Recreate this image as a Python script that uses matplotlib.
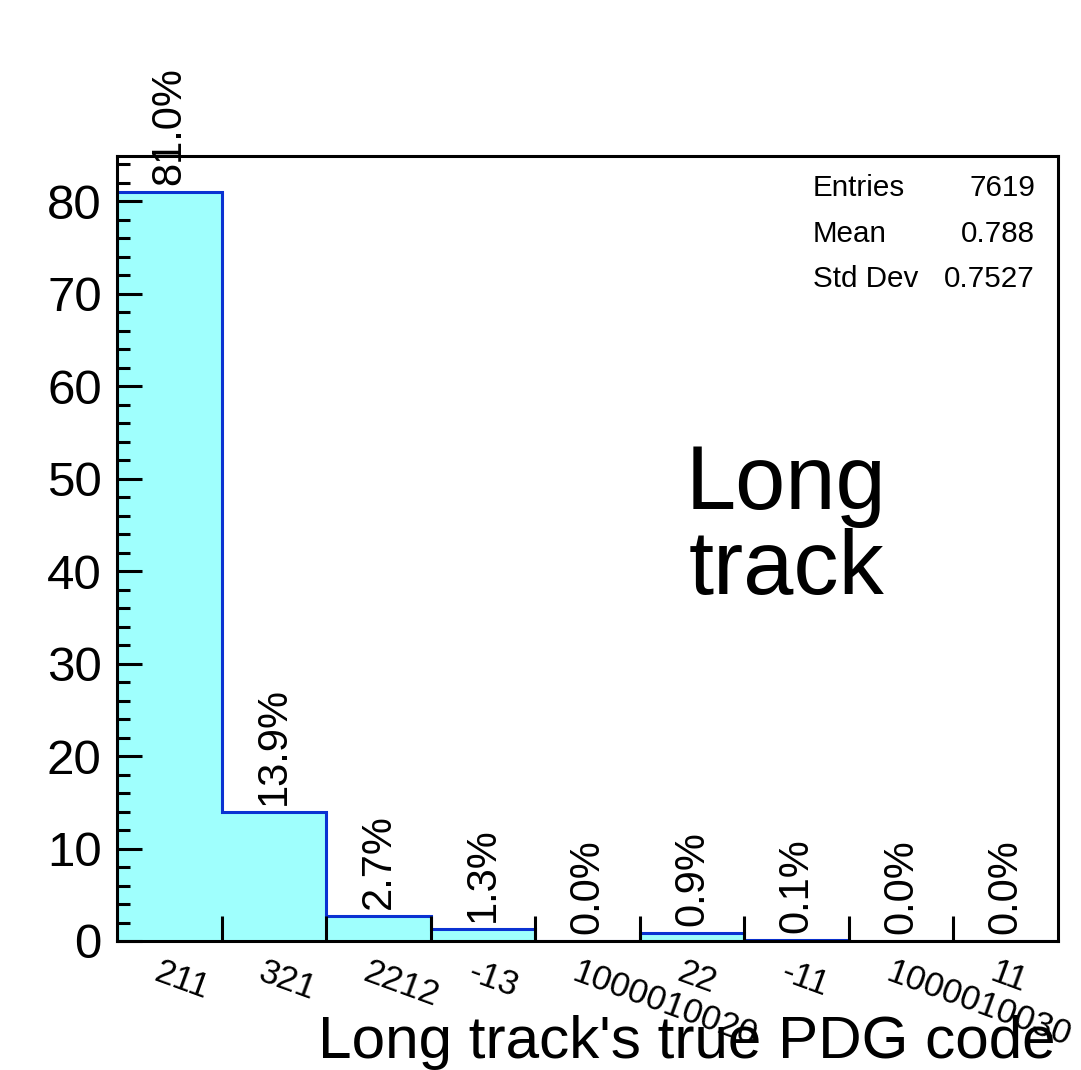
import matplotlib.pyplot as plt
import matplotlib
import numpy as np

matplotlib.rcParams['font.family'] = ['Liberation Sans', 'DejaVu Sans']

# data
pdg_codes = ["211", "321", "2212", "-13", "1000010020", "22", "-11", "1000010030", "11"]
fractions = [81.0, 13.9, 2.7, 1.3, 0.0, 0.9, 0.1, 0.0, 0.0]
stats_names = ["Entries", "Mean", "Std Dev"]
stats_values = ["7619", "0.788", "0.7527"]

if __name__ == '__main__':
    W, H = 1081, 1070
    fig = plt.figure(figsize=(W / 100, H / 100), dpi=100)
    ax = fig.add_axes([117 / W, 1 - 941 / H, (1058 - 117) / W, (941 - 156) / H])

    n = len(fractions)
    edges = np.arange(n + 1)
    centers = edges[:-1] + 0.5

    # histogram: fill + outline
    ax.stairs(fractions, edges, fill=True, color='#9ffffd', baseline=0)
    ax.stairs(fractions, edges, fill=False, color='#0a32d2', linewidth=2.2, baseline=0)

    ax.set_xlim(0, n)
    ax.set_ylim(0, 84.9)

    # axes frame
    for s in ax.spines.values():
        s.set_linewidth(2.2)

    # y ticks
    ax.set_yticks(np.arange(0, 81, 10))
    ax.set_yticks(np.arange(0, 85, 2), minor=True)
    ax.tick_params(axis='y', which='major', direction='in', length=18, width=2.2,
                   labelsize=35.5, pad=11)
    ax.tick_params(axis='y', which='minor', direction='in', length=9, width=2.2)

    # x ticks at bin edges, labels at bin centers
    ax.set_xticks(edges[1:-1])
    ax.set_xticklabels([])
    ax.tick_params(axis='x', which='major', direction='in', length=18, width=2.2)

    for c, lab in zip(centers, pdg_codes):
        ax.annotate(lab, xy=(c, 0), xycoords=('data', 'axes fraction'),
                    xytext=(-8, -15), textcoords='offset pixels',
                    rotation=-20, rotation_mode='anchor', ha='left', va='top',
                    fontsize=25, annotation_clip=False)

    # percentage text above bars
    for c, v in zip(centers, fractions):
        ax.annotate(f"{v:.1f}%", xy=(c, v), xytext=(0, 7), textcoords='offset pixels',
                    rotation=90, ha='center', va='bottom', fontsize=30,
                    annotation_clip=False)

    # stats box
    for i, (nm, val) in enumerate(zip(stats_names, stats_values)):
        y = 1 - (188 + i * 45.5) / H
        fig.text(813 / W, y, nm, ha='left', va='center', fontsize=21.3)
        fig.text(1035 / W, y, val, ha='right', va='center', fontsize=21.3)

    fig.text(786 / W, 1 - 528 / H, "Long\ntrack", ha='center', va='center',
             multialignment='center', fontsize=65, linespacing=0.99)

    fig.text(1055 / W, 1 - 1058 / H, "Long track's true PDG code", ha='right',
             va='baseline', fontsize=43.4)

    plt.savefig('out.png', dpi=100)
